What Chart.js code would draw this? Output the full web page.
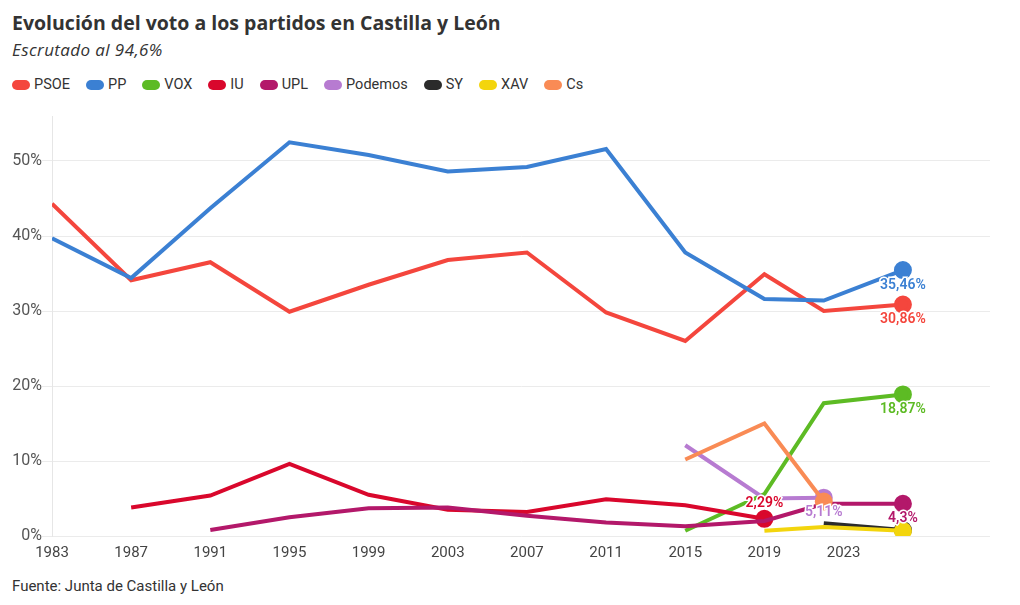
<!DOCTYPE html>
<html lang="es">
<head>
<meta charset="utf-8">
<script src="https://cdn.jsdelivr.net/npm/chart.js@4.4.1/dist/chart.umd.min.js"></script>
<style>
  html,body{margin:0;padding:0;background:#fff;}
  body{width:1020px;height:605px;position:relative;overflow:hidden;font-family:Roboto,'Noto Sans',sans-serif;color:#333;}
  h1{position:absolute;left:12px;top:9px;margin:0;font-family:'Open Sans',sans-serif;font-size:19.5px;font-weight:700;color:#333;letter-spacing:0;}
  .sub{position:absolute;left:12px;top:38px;font-family:'Open Sans',sans-serif;font-size:17px;font-style:italic;color:#333;letter-spacing:0.4px;}
  #legend{position:absolute;left:12px;top:76px;display:flex;font-size:14.5px;color:#333;}
  #legend .it{display:flex;align-items:center;margin-right:16px;}
  #legend .pill{width:18px;height:10px;border-radius:5px;margin-right:4px;}
  #wrap{position:absolute;left:0;top:100px;width:1020px;height:475px;}
  .foot{position:absolute;left:12px;top:577px;font-size:15px;color:#333;}
</style>
</head>
<body>
<h1>Evolución del voto a los partidos en Castilla y León</h1>
<div class="sub">Escrutado al 94,6%</div>
<div id="legend"></div>
<div id="wrap"><canvas id="c"></canvas></div>
<div class="foot">Fuente: Junta de Castilla y León</div>
<script>
// election years (x) and vote share per party (%), null = did not run
const years   = [1983, 1987, 1991, 1995, 1999, 2003, 2007, 2011, 2015, 2019, 2022, 2026];
const psoe    = [44.3, 34.1, 36.5, 29.9, 33.5, 36.8, 37.8, 29.8, 26.0, 34.9, 30.0, 30.86];
const pp      = [39.7, 34.4, 43.7, 52.5, 50.8, 48.6, 49.2, 51.6, 37.8, 31.6, 31.4, 35.46];
const vox     = [null, null, null, null, null, null, null, null, 0.7, 5.6, 17.7, 18.87];
const iu      = [null, 3.8, 5.4, 9.6, 5.5, 3.5, 3.2, 4.9, 4.1, 2.29, null, null];
const upl     = [null, null, 0.8, 2.5, 3.7, 3.8, 2.7, 1.8, 1.3, 2.0, 4.3, 4.3];
const podemos = [null, null, null, null, null, null, null, null, 12.1, 5.0, 5.11, null];
const sy      = [null, null, null, null, null, null, null, null, null, null, 1.7, 0.8];
const xav     = [null, null, null, null, null, null, null, null, null, 0.7, 1.2, 0.7];
const cs      = [null, null, null, null, null, null, null, null, 10.2, 15.0, 4.6, null];

const xTicks = [1983, 1987, 1991, 1995, 1999, 2003, 2007, 2011, 2015, 2019, 2023];
const yTicks = [0, 10, 20, 30, 40, 50];

const C = {PSOE:'#f4463d', PP:'#3b80d3', VOX:'#5dbb24', IU:'#d9072c', UPL:'#b3186a',
           Podemos:'#b77bd1', SY:'#2b2b2b', XAV:'#f3d50d', Cs:'#f98b55'};

// name, values, show end label?, label above point?
const parties = [
  ['PSOE', psoe, true, false],
  ['PP', pp, true, false],
  ['VOX', vox, true, false],
  ['IU', iu, true, true],
  ['UPL', upl, true, false],
  ['Podemos', podemos, true, false],
  ['SY', sy, false, false],
  ['XAV', xav, false, false],
  ['Cs', cs, false, false]
];

const lastIdx = arr => { let k=-1; arr.forEach((v,i)=>{ if(v!==null) k=i; }); return k; };

// html legend
const lg = document.getElementById('legend');
parties.forEach(p=>{
  const d=document.createElement('div'); d.className='it';
  d.innerHTML=`<span class="pill" style="background:${C[p[0]]}"></span>${p[0]}`;
  lg.appendChild(d);
});

const datasets = parties.map((p,i)=>{
  const li = lastIdx(p[1]);
  return {
    label:p[0],
    data: years.map((y,j)=>({x:y, y:p[1][j]})),
    borderColor:C[p[0]], backgroundColor:C[p[0]],
    borderWidth:4, tension:0, spanGaps:false,
    pointRadius: ctx => ctx.dataIndex===li ? 7 : 0,
    pointHoverRadius: 0,
    order: parties.length - i,
    _last: li, _lab: p[2], _above: p[3]
  };
});

const endLabels = {
  id:'endLabels',
  afterDatasetsDraw(chart){
    const g=chart.ctx;
    g.save();
    g.font='600 14px Roboto, sans-serif';
    g.textAlign='center';
    chart.data.datasets.forEach((ds,i)=>{
      if(!ds._lab) return;
      const pt=chart.getDatasetMeta(i).data[ds._last];
      const v=ds.data[ds._last].y;
      const txt=String(v).replace('.',',')+'%';
      g.fillStyle=ds.borderColor;
      g.lineWidth=3; g.strokeStyle='#fff';
      if(ds._above){ g.textBaseline='bottom'; g.strokeText(txt,pt.x,pt.y-8); g.fillText(txt,pt.x,pt.y-8); }
      else { g.textBaseline='top'; g.strokeText(txt,pt.x,pt.y+8); g.fillText(txt,pt.x,pt.y+8); }
    });
    g.restore();
  }
};

new Chart(document.getElementById('c'), {
  type:'line',
  data:{datasets},
  options:{
    responsive:true, maintainAspectRatio:false, animation:false,
    layout:{padding:{top:16,right:30,left:0,bottom:0}},
    plugins:{legend:{display:false}, tooltip:{enabled:false}},
    scales:{
      x:{type:'linear', min:1983, max:2030.4,
        afterBuildTicks: s=>{ s.ticks = xTicks.map(v=>({value:v})); },
        afterFit: s=>{ s.height = 39; },
        grid:{display:false, drawTicks:true},
        border:{display:false},
        ticks:{color:'#444', font:{size:15, family:'Roboto'}, padding:0, maxRotation:0, autoSkip:false,
          callback:v=>String(v)}
      },
      y:{min:0, max:56,
        afterBuildTicks: s=>{ s.ticks = yTicks.map(v=>({value:v})); },
        afterFit: s=>{ s.width = 52; },
        grid:{color:'#ebebeb', lineWidth:1, tickLength:10},
        border:{display:true, color:'#e6e6e6'},
        ticks:{color:'#555', font:{size:16, family:'Roboto'}, padding:0, callback:v=>v+'%'}
      }
    }
  },
  plugins:[endLabels]
});
</script>
</body>
</html>
